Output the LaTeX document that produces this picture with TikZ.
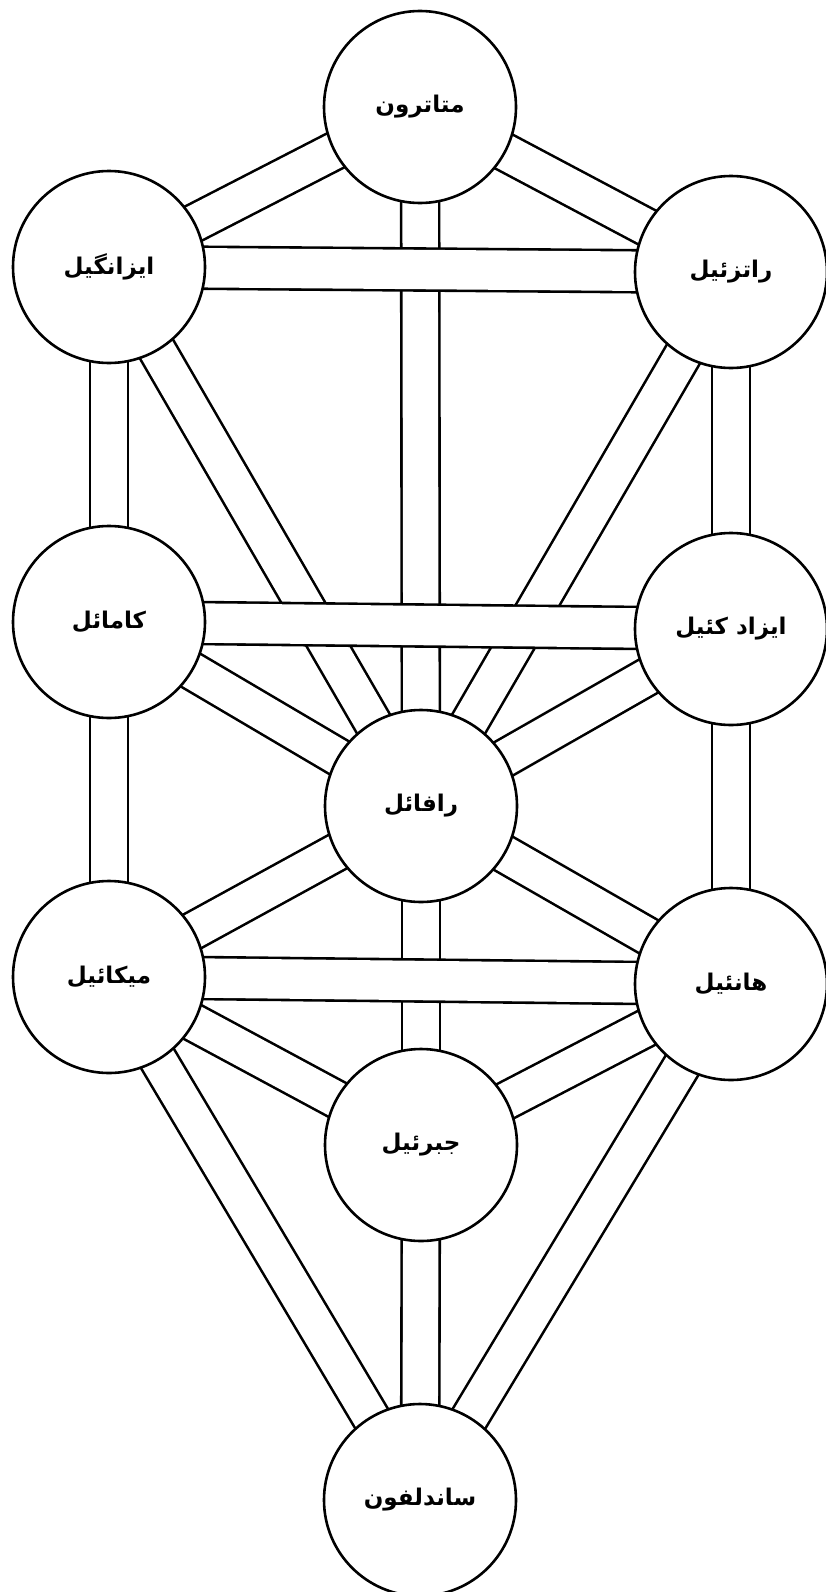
\documentclass[tikz,border=0pt]{standalone}
\usepackage{fontspec}
\newfontfamily\arabicfont[Script=Arabic]{DejaVu Sans}
\TeXXeTstate=1
\pgfdeclarelayer{paper}
\pgfdeclarelayer{background}
\pgfsetlayers{paper,background,main}
\tikzset{
  sephira/.style={circle, draw=black, line width=2.6pt, fill=white, minimum size=192pt, inner sep=0pt,
    font=\arabicfont\bfseries\fontsize{23}{26}\selectfont},
  band/.style={line width=2.6pt, draw=black, double=white, double distance=35.4pt},
  hband/.style={line width=2.6pt, draw=black, double=white, double distance=39.4pt}
}
\newcommand{\ar}[1]{\beginR #1\endR}
\begin{document}
\begin{tikzpicture}[x=1pt,y=-1pt]
\useasboundingbox (0,0) rectangle (825,1592);
\begin{pgfonlayer}{paper}
  \fill[white] (0,0) rectangle (825,1592);
\end{pgfonlayer}
\node[sephira] (k)  at (420,107)  {\ar{متاترون}};
\node[sephira] (bi) at (109,267)  {\ar{ایزانگیل}};
\node[sephira] (ch) at (731,272)  {\ar{راتزئیل}};
\node[sephira] (ge) at (109,622)  {\ar{کامائل}};
\node[sephira] (cs) at (731,629)  {\ar{ایزاد کئیل}};
\node[sephira] (t)  at (421,806)  {\ar{رافائل}};
\node[sephira] (ho) at (109,977)  {\ar{میکائیل}};
\node[sephira] (ne) at (731,984)  {\ar{هانئیل}};
\node[sephira] (y)  at (421,1145) {\ar{جبرئیل}};
\node[sephira] (m)  at (420,1500) {\ar{ساندلفون}};
\begin{pgfonlayer}{background}
  % vertical and diagonal paths
  \draw[band] (k.center) -- (bi.center);
  \draw[band] (k.center) -- (ch.center);
  \draw[band] (k.center) -- (t.center);
  \draw[band] (bi.center) -- (ge.center);
  \draw[band] (ch.center) -- (cs.center);
  \draw[band] (bi.center) -- (t.center);
  \draw[band] (ch.center) -- (t.center);
  \draw[band] (ge.center) -- (ho.center);
  \draw[band] (cs.center) -- (ne.center);
  \draw[band] (ge.center) -- (t.center);
  \draw[band] (cs.center) -- (t.center);
  \draw[band] (ho.center) -- (t.center);
  \draw[band] (ne.center) -- (t.center);
  \draw[band] (t.center) -- (y.center);
  \draw[band] (ho.center) -- (y.center);
  \draw[band] (ne.center) -- (y.center);
  \draw[band] (ho.center) -- (m.center);
  \draw[band] (ne.center) -- (m.center);
  \draw[band] (y.center) -- (m.center);
  % horizontal paths on top
  \draw[hband] (bi.center) -- (ch.center);
  \draw[hband] (ge.center) -- (cs.center);
  \draw[hband] (ho.center) -- (ne.center);
\end{pgfonlayer}
\end{tikzpicture}
\end{document}
